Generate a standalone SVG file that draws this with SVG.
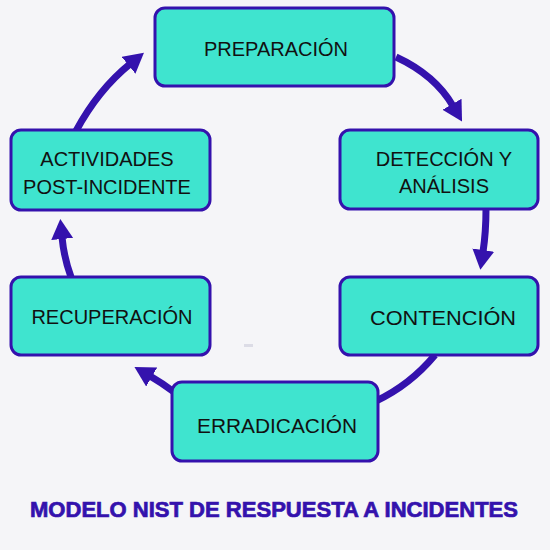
<svg xmlns="http://www.w3.org/2000/svg" width="550" height="550" viewBox="0 0 550 550">
<style>
.box{fill:#3fe4cf;stroke:#3412ad;stroke-width:3}
.lbl{font-family:"Liberation Sans",Arial,sans-serif;font-size:20px;fill:#111;text-anchor:middle}
.con{fill:none;stroke:#3412ad;stroke-width:7}
.title{font-family:"Liberation Sans",Arial,sans-serif;font-size:22px;font-weight:bold;fill:#3412ad;stroke:#3412ad;stroke-width:0.7;text-anchor:middle}
</style>
<defs>
<marker id="ah" markerUnits="userSpaceOnUse" markerWidth="22" markerHeight="24" refX="2" refY="11" orient="auto" viewBox="0 0 22 24">
<path d="M0,0 L20,11 L0,22 z" fill="#3412ad"/>
</marker>
</defs>
<rect width="550" height="550" fill="#f5f5f8"/>
<g id="connectors">
<path class="con" d="M396 57 Q435 75 453 106" marker-end="url(#ah)"/>
<path class="con" d="M486 209 Q486 232 483 252" marker-end="url(#ah)"/>
<path class="con" d="M435 355 Q410 385 376 401"/>
<path class="con" d="M174 392 Q162 383 150 376" marker-end="url(#ah)"/>
<path class="con" d="M71 277 Q64 258 62 237" marker-end="url(#ah)"/>
<path class="con" d="M76 131 Q98 90 130 64" marker-end="url(#ah)"/>
</g>
<rect x="244" y="344" width="9" height="3" fill="#dcdce6"/>
<g id="preparacion">
<rect class="box" x="155" y="8" width="239" height="78" rx="10"/>
<text class="lbl" x="276" y="56">PREPARACIÓN</text>
</g>
<g id="deteccion">
<rect class="box" x="340" y="130" width="198" height="79" rx="10"/>
<text class="lbl" x="444" y="166">DETECCIÓN Y</text>
<text class="lbl" x="444" y="193">ANÁLISIS</text>
</g>
<g id="contencion">
<rect class="box" x="340" y="277" width="198" height="78" rx="10"/>
<text class="lbl" x="443" y="325" textLength="146" lengthAdjust="spacingAndGlyphs">CONTENCIÓN</text>
</g>
<g id="erradicacion">
<rect class="box" x="172" y="382" width="206" height="79" rx="10"/>
<text class="lbl" x="277" y="433" textLength="160" lengthAdjust="spacingAndGlyphs">ERRADICACIÓN</text>
</g>
<g id="recuperacion">
<rect class="box" x="11" y="277" width="199" height="78" rx="10"/>
<text class="lbl" x="112" y="324">RECUPERACIÓN</text>
</g>
<g id="actividades">
<rect class="box" x="11" y="130" width="199" height="80" rx="10"/>
<text class="lbl" x="107" y="166">ACTIVIDADES</text>
<text class="lbl" x="107" y="194">POST-INCIDENTE</text>
</g>
<text class="title" x="274" y="517" textLength="488" lengthAdjust="spacingAndGlyphs">MODELO NIST DE RESPUESTA A INCIDENTES</text>
</svg>
